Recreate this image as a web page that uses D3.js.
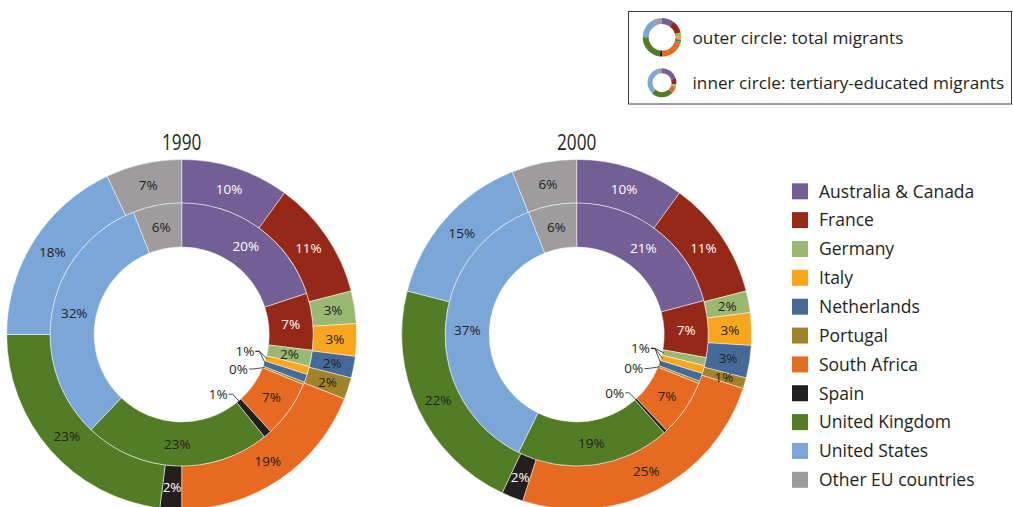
<!DOCTYPE html>
<html>
<head>
<meta charset="utf-8">
<script src="https://cdn.jsdelivr.net/npm/d3@7"></script>
<style>
  body { margin: 0; background: #fff; }
  svg { display: block; font-family: "Open Sans", "Noto Sans", sans-serif; }
</style>
</head>
<body>
<svg id="chart" width="1013" height="507"></svg>
<script>
// Destination shares of emigrants (percent)
const categories = ["Australia & Canada", "France", "Germany", "Italy", "Netherlands", "Portugal",
                    "South Africa", "Spain", "United Kingdom", "United States", "Other EU countries"];
const colors = ["#735f96", "#952816", "#9bb873", "#f7a61e", "#456a98", "#a2832a",
                "#e66a21", "#231f20", "#527c25", "#7ba6d8", "#9e9c9d"];
const lightLabelCats = ["Australia & Canada", "France", "Spain"];
const years = ["1990", "2000"];
const total1990 = [10, 11, 3, 3, 2, 2, 19, 2, 23, 18, 7];
const tertiary1990 = [20, 7, 2, 1, 1, 0.3, 7, 1, 23, 32, 6];
const total2000 = [10, 11, 2, 3, 3, 1, 25, 2, 22, 15, 6];
const tertiary2000 = [21, 7, 1, 1, 1, 0.3, 7, 0.4, 19, 37, 6];
const keyTexts = ["outer circle: total migrants", "inner circle: tertiary-educated migrants"];

const dark = "#231f20";
const svg = d3.select("#chart");

const R = 175, Rmid = 131.5, Rhole = 87.5;
const centers = [[181.7, 334.5], [576.7, 334.5]];
const seriesByYear = [[total1990, tertiary1990], [total2000, tertiary2000]];

const pie = d3.pie().sort(null).value(d => d.v);
const color = d3.scaleOrdinal().domain(categories).range(colors);
const pct = v => Math.round(v) + "%";
const mid = d => (d.startAngle + d.endAngle) / 2;
const polar = (c, a, r) => [c[0] + r * Math.sin(a), c[1] - r * Math.cos(a)];

function slicesOf(vals) {
  return pie(vals.map((v, i) => ({ cat: categories[i], v })));
}

// callout angle offsets (degrees) for successive groups of tiny inner slices
const calloutShift = [-5, 5, 2];

years.forEach((year, yi) => {
  const c = centers[yi];
  const g = svg.append("g").attr("transform", `translate(${c[0]},${c[1]})`);
  const [outerVals, innerVals] = seriesByYear[yi];

  const rings = [
    { data: slicesOf(outerVals), arc: d3.arc().innerRadius(Rmid).outerRadius(R), inner: false },
    { data: slicesOf(innerVals), arc: d3.arc().innerRadius(Rhole).outerRadius(Rmid), inner: true }
  ];

  rings.forEach(ring => {
    g.append("g").selectAll("path")
      .data(ring.data)
      .join("path")
      .attr("d", ring.arc)
      .attr("fill", d => color(d.data.cat))
      .attr("stroke", "#fff")
      .attr("stroke-width", 0.6)
      .attr("stroke-opacity", 0.8);

    const labelled = ring.data.filter(d => !ring.inner || d.data.v >= 1.5);
    g.append("g").selectAll("text")
      .data(labelled)
      .join("text")
      .attr("transform", d => `translate(${ring.arc.centroid(d)})`)
      .attr("text-anchor", "middle")
      .attr("dy", "0.36em")
      .attr("font-size", 13.5)
      .attr("fill", d => lightLabelCats.includes(d.data.cat) ? "#fff" : dark)
      .text(d => pct(d.data.v));
  });

  // tiny inner slices: grouped callouts with leader lines into the hole
  const innerData = rings[1].data;
  const groups = [];
  innerData.forEach((d, i) => {
    if (d.data.v >= 1.5) return;
    const last = groups[groups.length - 1];
    if (last && last.lastIndex === i - 1 && last.label === pct(d.data.v)) {
      last.items.push(d); last.lastIndex = i;
    } else {
      groups.push({ label: pct(d.data.v), items: [d], lastIndex: i });
    }
  });

  groups.forEach((grp, gi) => {
    const meanA = d3.mean(grp.items, mid) + (calloutShift[gi] || 0) * Math.PI / 180;
    const end = polar([0, 0], meanA, Rhole - 11);
    g.append("text")
      .attr("x", end[0] - 2)
      .attr("y", end[1])
      .attr("dy", "0.36em")
      .attr("text-anchor", "end")
      .attr("font-size", 13.5)
      .attr("fill", dark)
      .text(grp.label);
    grp.items.forEach(d => {
      const tgt = polar([0, 0], mid(d), Rhole + 1.5);
      g.append("path")
        .attr("d", d3.line()([[end[0] - 1, end[1]], [end[0] + 3, end[1]], tgt]))
        .attr("fill", "none")
        .attr("stroke", dark)
        .attr("stroke-width", 0.8);
    });
  });

  // year title
  svg.append("text")
    .attr("transform", `translate(${c[0]},150) scale(0.82,1)`)
    .attr("text-anchor", "middle")
    .attr("font-size", 21)
    .attr("fill", dark)
    .text(year);
});

// category legend
const legend = svg.append("g");
const rowY = d3.scalePoint().domain(categories).range([183.3, 471.8]);
legend.selectAll("rect")
  .data(categories)
  .join("rect")
  .attr("x", 792)
  .attr("y", d => rowY(d))
  .attr("width", 16)
  .attr("height", 16)
  .attr("fill", d => color(d));
legend.selectAll("text")
  .data(categories)
  .join("text")
  .attr("x", 819)
  .attr("y", d => rowY(d) + 8)
  .attr("dy", "0.36em")
  .attr("font-size", 17.5)
  .attr("fill", dark)
  .text(d => d);

// key box explaining the two rings
const key = svg.append("g");
key.append("rect")
  .attr("x", 628.5).attr("y", 11.5)
  .attr("width", 383).attr("height", 92.5)
  .attr("fill", "none")
  .attr("stroke", "#3c3c3c")
  .attr("stroke-width", 1);

const keyRings = [
  { vals: total1990, cy: 37.3, ro: 19.3, ri: 13.3, ty: 44.3 },
  { vals: tertiary1990, cy: 82.7, ro: 14.5, ri: 9.5, ty: 89.3 }
];
keyRings.forEach((k, ki) => {
  const arc = d3.arc().innerRadius(k.ri).outerRadius(k.ro);
  key.append("g")
    .attr("transform", `translate(662,${k.cy})`)
    .selectAll("path")
    .data(slicesOf(k.vals))
    .join("path")
    .attr("d", arc)
    .attr("fill", d => color(d.data.cat));
  key.append("text")
    .attr("x", 692.5)
    .attr("y", k.ty)
    .attr("font-size", 17.2)
    .attr("fill", dark)
    .text(keyTexts[ki]);
});
</script>
</body>
</html>
